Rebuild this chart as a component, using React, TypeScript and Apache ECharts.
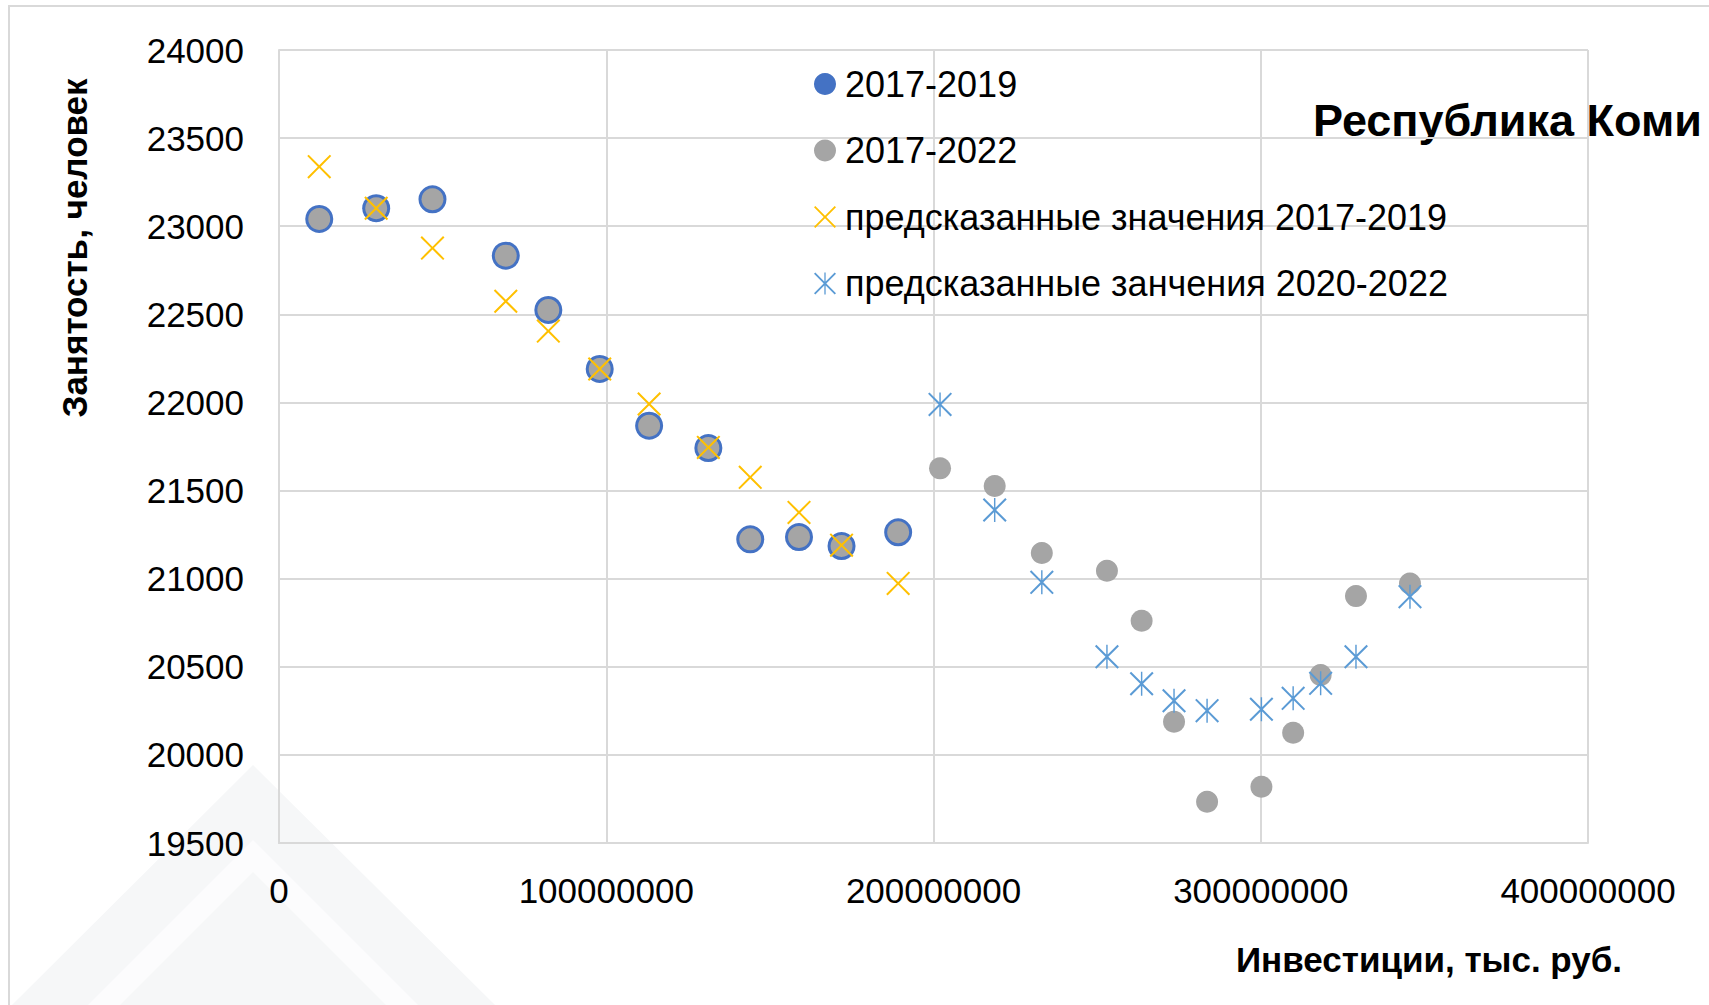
import React, { useEffect, useRef } from "react";
import * as echarts from "echarts";

// Investment (thousand rubles) for each observation
const investX = [
  12.3e6, 29.7e6, 46.9e6, 69.3e6, 82.3e6, 98.0e6, 113.1e6, 131.2e6, 144.0e6, 158.9e6, 171.9e6, 189.2e6,
  202.0e6, 218.7e6, 233.1e6, 253.0e6, 263.6e6, 273.5e6, 283.6e6, 300.2e6, 309.9e6, 318.3e6, 329.1e6, 345.6e6,
];

// Actual employment 2017-2019 (first 12 observations)
const emp2017_2019 = [23041, 23102, 23153, 22833, 22525, 22190, 21868, 21741, 21223, 21236, 21185, 21263];

// Actual employment 2017-2022 (all 24 observations)
const emp2017_2022 = [
  23041, 23102, 23153, 22833, 22525, 22190, 21868, 21741, 21223, 21236, 21185, 21263,
  21626, 21526, 21146, 21045, 20761, 20188, 19734, 19819, 20126, 20453, 20901, 20973,
];

// Predicted 2017-2019 (first 12 observations)
const pred2017_2019 = [23338, 23102, 22876, 22574, 22405, 22190, 21991, 21745, 21575, 21376, 21190, 20973];

// Predicted 2020-2022 (observations 13..24)
const pred2020_2022 = [21989, 21390, 20979, 20557, 20404, 20307, 20251, 20259, 20321, 20406, 20557, 20898];

const xTicks = { min: 0, max: 400000000, interval: 100000000 };
const yTicks = { min: 19500, max: 24000, interval: 500 };

const seriesNames = [
  "2017-2019",
  "2017-2022",
  "предсказанные значения 2017-2019",
  "предсказанные занчения 2020-2022",
];

const X_PATH = "path://M0,6L6,0L50,44L94,0L100,6L56,50L100,94L94,100L50,56L6,100L0,94L44,50Z";
const STAR_PATH =
  "path://M0,6L6,0L50,44L94,0L100,6L56,50L100,94L94,100L50,56L6,100L0,94L44,50Z M47,0L53,0L53,100L47,100Z";

const FONT = "'Liberation Sans', Arial, sans-serif";

export default function App() {
  const ref = useRef<HTMLDivElement>(null);

  useEffect(() => {
    document.body.style.margin = "0";
    if (!ref.current) return;
    const chart = echarts.init(ref.current, undefined, { renderer: "svg" });

    const d1 = emp2017_2019.map((y, i) => [investX[i], y]);
    const d2 = emp2017_2022.map((y, i) => [investX[i], y]);
    const d3 = pred2017_2019.map((y, i) => [investX[i], y]);
    const d4 = pred2020_2022.map((y, i) => [investX[i + 12], y]);

    const gridColor = "#d9d9d9";
    const wm = "#f6f7f8";

    chart.setOption({
      animation: false,
      backgroundColor: "#ffffff",
      textStyle: { fontFamily: FONT },
      grid: { left: 279, right: 121, top: 50, bottom: 162, containLabel: false },
      xAxis: {
        type: "value",
        min: xTicks.min,
        max: xTicks.max,
        interval: xTicks.interval,
        axisLine: { show: true, lineStyle: { color: gridColor, width: 2 } },
        axisTick: { show: false },
        splitLine: { show: true, lineStyle: { color: gridColor, width: 2 } },
        axisLabel: { color: "#000", fontSize: 35, margin: 30, fontFamily: FONT, formatter: (v: number) => String(v) },
      },
      yAxis: {
        type: "value",
        min: yTicks.min,
        max: yTicks.max,
        interval: yTicks.interval,
        axisLine: { show: true, lineStyle: { color: gridColor, width: 2 } },
        axisTick: { show: false },
        splitLine: { show: true, lineStyle: { color: gridColor, width: 2 } },
        axisLabel: { color: "#000", fontSize: 35, margin: 35, fontFamily: FONT, formatter: (v: number) => String(v) },
      },
      legend: {
        orient: "vertical",
        left: 809,
        top: 61,
        itemWidth: 22,
        itemHeight: 22,
        itemGap: 30.5,
        textStyle: { color: "#000", fontSize: 36, lineHeight: 36, fontFamily: FONT, padding: [0, 0, 0, 4] },
        data: seriesNames,
      },
      graphic: [
        {
          type: "polygon",
          z: -10,
          silent: true,
          shape: { points: [[253, 765], [495, 1005], [12, 1005]] },
          style: { fill: wm },
        },
        {
          type: "polygon",
          z: -9,
          silent: true,
          shape: { points: [[253, 840], [418, 1005], [88, 1005]] },
          style: { fill: "#fcfcfd" },
        },
        {
          type: "polygon",
          z: -8,
          silent: true,
          shape: { points: [[253, 872], [386, 1005], [120, 1005]] },
          style: { fill: wm },
        },
        {
          type: "rect",
          z: 0,
          silent: true,
          shape: { x: 9, y: 6, width: 1800, height: 1100 },
          style: { fill: "none", stroke: gridColor, lineWidth: 2 },
        },
        {
          type: "text",
          x: 74,
          y: 248,
          rotation: Math.PI / 2,
          style: {
            text: "Занятость, человек",
            fill: "#000",
            font: `bold 35px ${FONT}`,
            align: "center",
            verticalAlign: "middle",
          },
        },
        {
          type: "text",
          x: 1429,
          y: 959,
          style: {
            text: "Инвестиции, тыс. руб.",
            fill: "#000",
            font: `bold 35px ${FONT}`,
            align: "center",
            verticalAlign: "middle",
          },
        },
        {
          type: "text",
          x: 1313,
          y: 120,
          style: {
            text: "Республика Коми",
            fill: "#000",
            font: `bold 45px ${FONT}`,
            align: "left",
            verticalAlign: "middle",
          },
        },
      ],
      series: [
        {
          name: seriesNames[0],
          type: "scatter",
          data: d1,
          symbol: "circle",
          symbolSize: 28,
          itemStyle: { color: "#4472C4", opacity: 1 },
        },
        {
          name: seriesNames[1],
          type: "scatter",
          data: d2,
          symbol: "circle",
          symbolSize: 22,
          itemStyle: { color: "#A5A5A5", opacity: 1 },
        },
        {
          name: seriesNames[2],
          type: "scatter",
          data: d3,
          symbol: X_PATH,
          symbolSize: 24,
          symbolKeepAspect: true,
          itemStyle: { color: "#FFC000", opacity: 1 },
        },
        {
          name: seriesNames[3],
          type: "scatter",
          data: d4,
          symbol: STAR_PATH,
          symbolSize: 24,
          symbolKeepAspect: true,
          itemStyle: { color: "#5B9BD5", opacity: 1 },
        },
      ],
    });

    return () => chart.dispose();
  }, []);

  return <div ref={ref} style={{ width: 1709, height: 1005 }} />;
}
